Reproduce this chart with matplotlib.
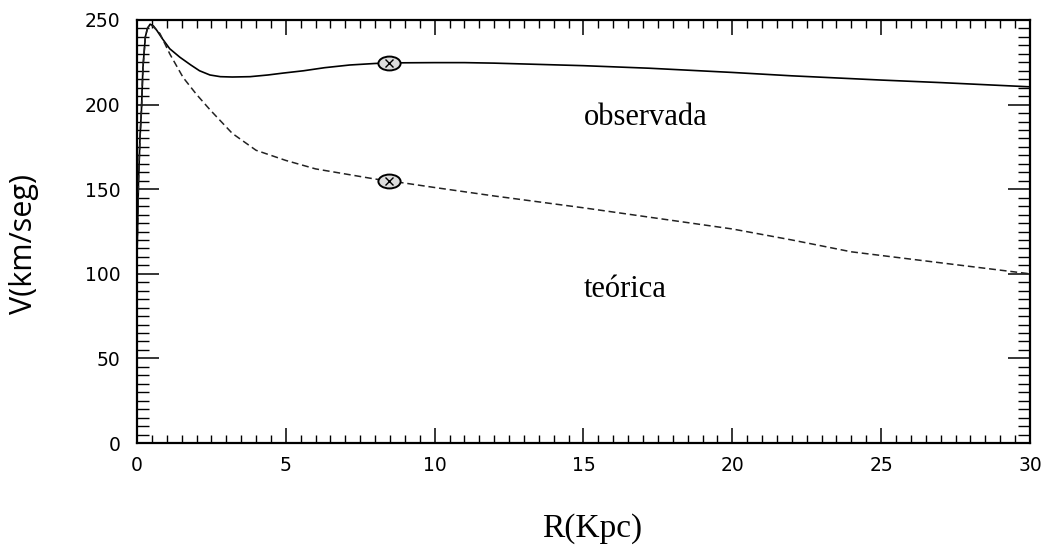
import matplotlib.pyplot as plt
import numpy as np
from matplotlib.path import Path
from matplotlib.ticker import MultipleLocator

# Curva de rotação observada (linha contínua)
r_obs = [0.0, 0.05, 0.1, 0.15, 0.2, 0.28, 0.35, 0.44, 0.55, 0.66, 0.85, 1.1, 1.44, 1.8,
         2.1, 2.45, 2.8, 3.2, 3.8, 4.4, 4.9, 5.6, 6.3, 7.15, 8.0, 8.46, 9.0, 10.0, 11.0,
         12.0, 13.0, 15.0, 17.2, 20.0, 22.0, 25.0, 27.0, 30.0]
v_obs = [110, 154, 180, 197, 222, 240, 245, 247.5, 246.5, 244, 239, 233, 228, 223.5,
         220, 217.5, 216.5, 216.3, 216.5, 217.5, 218.6, 220, 221.8, 223.4, 224.3, 224.6,
         224.7, 224.8, 224.8, 224.5, 224.0, 223.0, 221.5, 219.0, 217.0, 214.5, 213.0, 210.5]

# Curva teórica (linha tracejada)
r_teo = [0.0, 0.05, 0.1, 0.15, 0.2, 0.28, 0.35, 0.44, 0.55, 0.77, 1.1, 1.55, 2.0, 2.45,
         3.2, 4.0, 5.0, 6.0, 7.0, 8.0, 8.46, 10.0, 12.0, 15.0, 17.0, 20.0, 22.0, 24.0,
         27.0, 30.0]
v_teo = [110, 154, 180, 197, 222, 240, 245, 247.5, 246, 242, 230, 216, 206, 197,
         183, 173, 167, 162, 159, 156, 155, 151, 146, 139, 134, 126.5, 120, 113,
         106.5, 100]

# Posição do Sol (marcadores)
r_sol = [8.46, 8.46]
v_sol = [224.6, 155]

fig, ax = plt.subplots(figsize=(10.45, 5.46), dpi=100)
fig.subplots_adjust(left=0.1311, right=0.9856, top=0.9634, bottom=0.1886)

ax.plot(r_obs, v_obs, color="black", linewidth=1.2)
ax.plot(r_teo, v_teo, color="#222222", linewidth=1.1, linestyle=(0, (4.5, 2.5)))

# marcador elíptico com um x dentro
circ = Path.unit_circle()
elipse = Path(circ.vertices * np.array([1.6, 1.0]), circ.codes)
ax.plot(r_sol, v_sol, linestyle="none", marker=elipse, markersize=16,
        markerfacecolor="#dddddd", markeredgecolor="black", markeredgewidth=1.4, zorder=5)
ax.plot(r_sol, v_sol, linestyle="none", marker="x", markersize=6,
        color="black", markeredgewidth=1.0, zorder=6)

ax.text(15.0, 188, "observada", fontsize=22, family="Liberation Serif", va="baseline")
ax.text(15.0, 86.3, "teórica", fontsize=22, family="Liberation Serif", va="baseline")

ax.set_xlim(0, 30)
ax.set_ylim(0, 250)
ax.xaxis.set_major_locator(MultipleLocator(5))
ax.xaxis.set_minor_locator(MultipleLocator(0.5))
ax.yaxis.set_major_locator(MultipleLocator(50))
ax.yaxis.set_minor_locator(MultipleLocator(5))

ax.tick_params(axis="x", which="major", direction="in", length=10.5, width=1.1,
               top=True, pad=9, labelsize=13.5)
ax.tick_params(axis="x", which="minor", direction="in", length=5.5, width=1.0, top=True)
ax.tick_params(axis="y", which="major", direction="in", length=16, width=1.1,
               right=True, pad=12, labelsize=13.5)
ax.tick_params(axis="y", which="minor", direction="in", length=8.5, width=1.0, right=True)
for s in ax.spines.values():
    s.set_linewidth(1.6)

fig.text(0.567, 1 - 537 / 546, "R(Kpc)", fontsize=24, family="Liberation Serif",
         ha="center", va="baseline")
fig.text(0.023, 1 - 244 / 546, "V(km/seg)", fontsize=22, family="Open Sans",
         rotation=90, ha="center", va="center")

fig.savefig("out.png", dpi=100)
